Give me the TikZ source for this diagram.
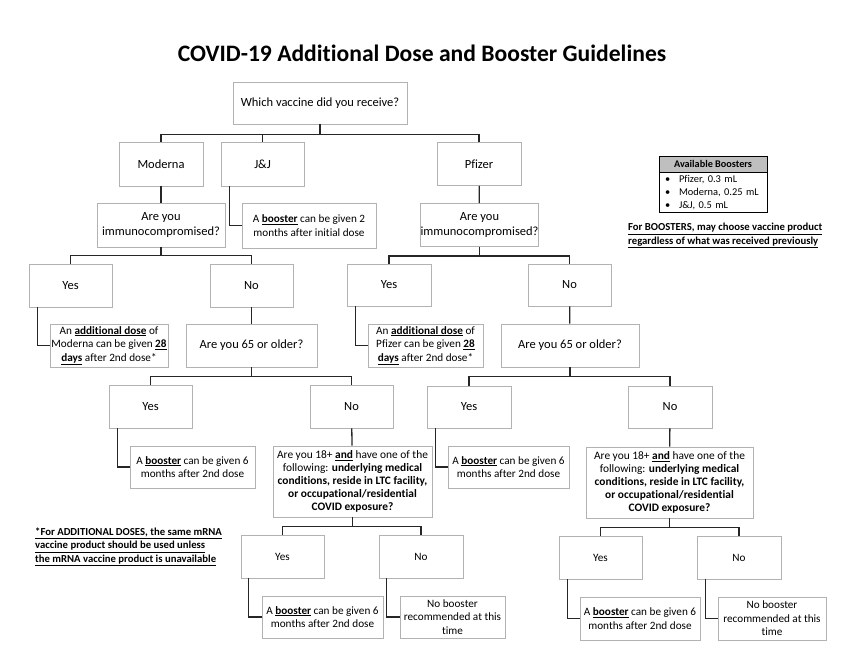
\documentclass[tikz,border=0pt]{standalone}
\usepackage{fontspec}
\setmainfont{Carlito}[Ligatures=NoCommon]
\usetikzlibrary{positioning}
\begin{document}
\begin{tikzpicture}[x=1pt, y=-1pt,
   box/.style={draw=black!30, line width=0.7pt, align=center, inner sep=0pt, font=\fontsize{12.5}{15}\selectfont},
   small/.style={box, font=\fontsize{11.2}{13.5}\selectfont},
   ask/.style={box, font=\fontsize{11.4}{13}\selectfont},
   link/.style={line width=1.3pt, black!85},
   note/.style={align=left, inner sep=0pt, font=\bfseries\fontsize{10.7}{13.5}\selectfont}]
   \useasboundingbox (0,0) rectangle (845,653);
   \node[font=\bfseries\fontsize{23.6}{28}\selectfont] (title) at (422,53) {COVID-19 Additional Dose and Booster Guidelines};
   % first level
   \node[box, minimum width=174, minimum height=42] (root) at (320,103) {Which vaccine did you receive?};
   \node[box, minimum width=84, minimum height=44] (mod) at (161,164)   {Moderna};
   \node[box, minimum width=83, minimum height=44] (jj)  at (262.5,164) {J\&J};
   \node[box, minimum width=84, minimum height=43] (pf)  at (479,164)   {Pfizer};
   \node[box, minimum width=128, minimum height=44] (modq) at (161,225)   {Are you\\immunocompromised?};
   \node[small, minimum width=134, minimum height=45] (jjb) at (309,225.5) {A \underline{\textbf{booster}} can be given 2\\months after initial dose};
   \node[box, minimum width=113, minimum height=43] (pfq)  at (479.5,225) {Are you\\immunocompromised?};
   % immunocompromised?
   \node[box, minimum width=83, minimum height=43] (myes) at (70.5,285.5)  {Yes};
   \node[box, minimum width=83, minimum height=43] (mno)  at (251.5,285.5) {No};
   \node[box, minimum width=84, minimum height=42] (pyes) at (389,285)     {Yes};
   \node[box, minimum width=83, minimum height=42] (pno)  at (569.5,285)   {No};
   \node[small, minimum width=118, minimum height=43] (madd) at (109,345.5) {An \underline{\textbf{additional dose}} of\\Moderna can be given \underline{\textbf{28}}\\\underline{\textbf{days}} after 2nd dose*};
   \node[box, minimum width=131, minimum height=43] (mold) at (251.5,345.5) {Are you 65 or older?};
   \node[small, minimum width=115, minimum height=43] (padd) at (425.5,345.5) {An \underline{\textbf{additional dose}} of\\Pfizer can be given \underline{\textbf{28}}\\\underline{\textbf{days}} after 2nd dose*};
   \node[box, minimum width=138, minimum height=43] (pold) at (570,345.5) {Are you 65 or older?};
   % 65 or older?
   \node[box, minimum width=83, minimum height=43] (moyes) at (150.5,406.5) {Yes};
   \node[box, minimum width=83, minimum height=43] (mono)  at (351.5,406.5) {No};
   \node[box, minimum width=84, minimum height=42] (poyes) at (469,407)     {Yes};
   \node[box, minimum width=84, minimum height=42] (pono)  at (670,407)     {No};
   \node[small, minimum width=125, minimum height=42] (mbst) at (192.5,467) {A \underline{\textbf{booster}} can be given 6\\months after 2nd dose};
   \node[ask, minimum width=159, minimum height=71] (mrisk) at (352.5,481.5) {Are you 18+ \underline{\textbf{and}} have one of the\\following: \textbf{underlying medical}\\\textbf{conditions, reside in LTC facility,}\\\textbf{or occupational/residential}\\\textbf{COVID exposure?}};
   \node[small, minimum width=121, minimum height=42] (pbst) at (508.5,467) {A \underline{\textbf{booster}} can be given 6\\months after 2nd dose};
   \node[ask, minimum width=167, minimum height=71] (prisk) at (669.5,482.5) {Are you 18+ \underline{\textbf{and}} have one of the\\following: \textbf{underlying medical}\\\textbf{conditions, reside in LTC facility,}\\\textbf{or occupational/residential}\\\textbf{COVID exposure?}};
   % 18+ ?
   \node[small, minimum width=83, minimum height=43] (mryes) at (282.5,556.5) {Yes};
   \node[small, minimum width=84, minimum height=43] (mrno)  at (421,556.5)   {No};
   \node[small, minimum width=83, minimum height=43] (pryes) at (600.5,557.5) {Yes};
   \node[small, minimum width=84, minimum height=43] (prno)  at (739,557.5)   {No};
   \node[small, minimum width=121, minimum height=42] (mbst2) at (322.5,617) {A \underline{\textbf{booster}} can be given 6\\months after 2nd dose};
   \node[small, minimum width=105, minimum height=42] (mnone) at (452.5,617) {No booster\\recommended at this\\time};
   \node[small, minimum width=120, minimum height=43] (pbst2) at (640,618.5) {A \underline{\textbf{booster}} can be given 6\\months after 2nd dose};
   \node[small, minimum width=108, minimum height=43] (pnone) at (772,618.5) {No booster\\recommended at this\\time};
   % side notes
   \node[draw, line width=0.8pt, fill=black!25, minimum width=108, minimum height=16, inner sep=0pt, font=\bfseries\fontsize{10.2}{12}\selectfont] (avhead) at (713,164) {Available Boosters};
   \node[draw, line width=0.8pt, below=0pt of avhead, text width=96, inner xsep=6, inner ysep=2, minimum height=40, align=left, font=\fontsize{10.4}{13}\selectfont] (avlist)
      {\makebox[14pt][l]{\textbullet}Pfizer, 0.3 mL\\\makebox[14pt][l]{\textbullet}Moderna, 0.25 mL\\\makebox[14pt][l]{\textbullet}J\&J, 0.5 mL};
   \node[note, anchor=north west] (bnote) at (628,223) {\underline{For BOOSTERS, may choose vaccine product}\\\underline{regardless of what was received previously}};
   \node[note, anchor=west] (anote) at (35,547) {\underline{*For ADDITIONAL DOSES, the same mRNA}\\\underline{vaccine product should be used unless}\\\underline{the mRNA vaccine product is unavailable}};
   % connectors
   \draw[link] (root.south) -- ++(0,10) -| (mod.north);
   \draw[link] (root.south) -- ++(0,10) -| (jj.north);
   \draw[link] (root.south) -- ++(0,10) -| (pf.north);
   \draw[link] (mod) -- (modq);
   \draw[link] (pf) -- (pfq);
   \draw[link] ([xshift=9]jj.south west) |- (jjb.west);
   \draw[link] (modq.south) -- ++(0,8) -| (myes.north);
   \draw[link] (modq.south) -- ++(0,8) -| (mno.north);
   \draw[link] (pfq.south) -- ++(0,9) -| (pyes.north);
   \draw[link] (pfq.south) -- ++(0,9) -| (pno.north);
   \draw[link] ([xshift=9]myes.south west) |- (madd.west);
   \draw[link] ([xshift=9]pyes.south west) |- (padd.west);
   \draw[link] (mno) -- (mold);
   \draw[link] (pno) -- (pold);
   \draw[link] (mold.south) -- ++(0,9) -| (moyes.north);
   \draw[link] (mold.south) -- ++(0,9) -| (mono.north);
   \draw[link] (pold.south) -- ++(0,9) -| (poyes.north);
   \draw[link] (pold.south) -- ++(0,9) -| (pono.north);
   \draw[link] ([xshift=9]moyes.south west) |- (mbst.west);
   \draw[link] ([xshift=9]poyes.south west) |- (pbst.west);
   \draw[link] (mono) -- (mrisk);
   \draw[link] (pono) -- (prisk);
   \draw[link] (mrisk.south) -- ++(0,9) -| (mryes.north);
   \draw[link] (mrisk.south) -- ++(0,9) -| (mrno.north);
   \draw[link] (prisk.south) -- ++(0,9) -| (pryes.north);
   \draw[link] (prisk.south) -- ++(0,9) -| (prno.north);
   \draw[link] ([xshift=8]mryes.south west) |- (mbst2.west);
   \draw[link] ([xshift=8]mrno.south west) |- (mnone.west);
   \draw[link] ([xshift=9]pryes.south west) |- (pbst2.west);
   \draw[link] ([xshift=9]prno.south west) |- (pnone.west);
\end{tikzpicture}
\end{document}
